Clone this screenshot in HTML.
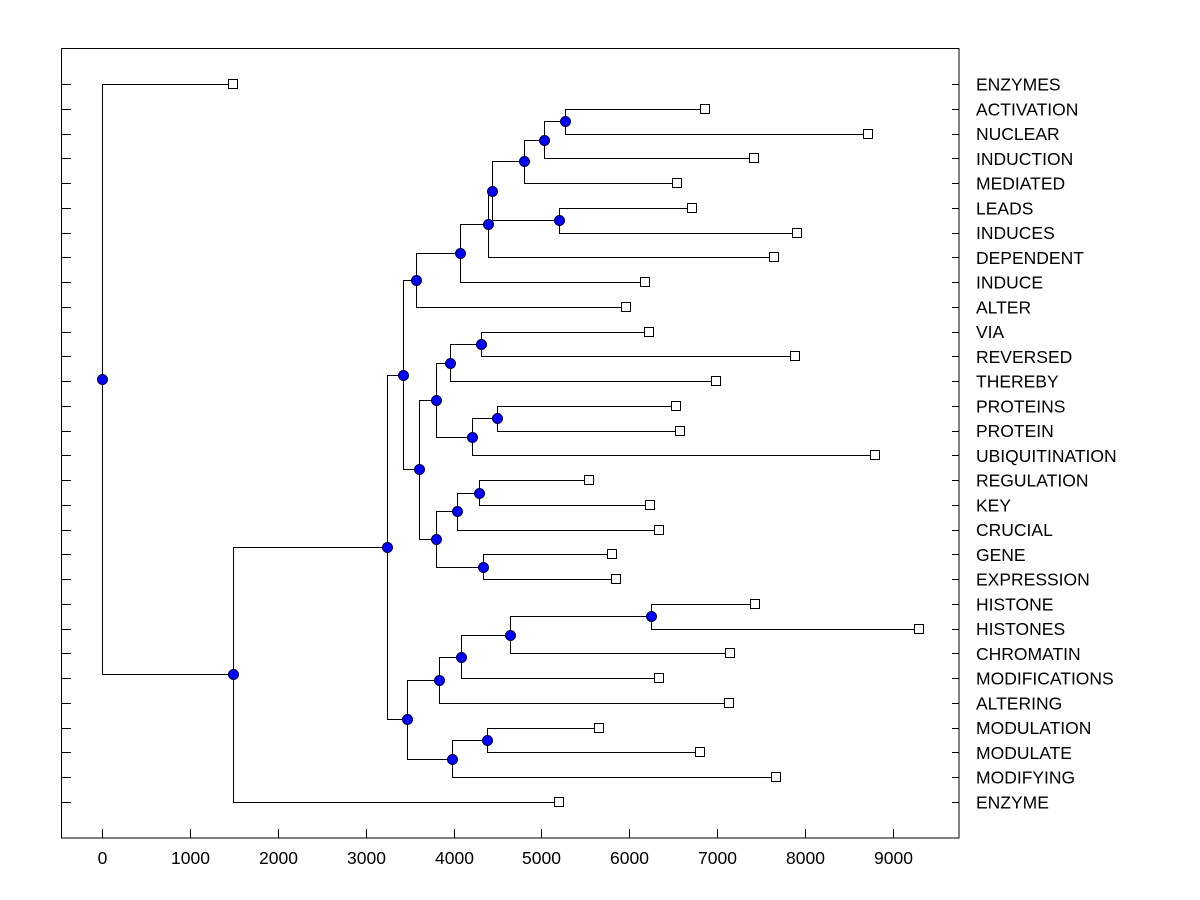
<!DOCTYPE html>
<html><head><meta charset="utf-8"><style>
html,body{margin:0;padding:0;background:#fff;}
svg{display:block;font-family:"Liberation Sans",Arial,sans-serif;}
</style></head><body>
<svg id="chart" width="1200" height="900">
<rect x="61.5" y="48.5" width="897.5" height="789.5" fill="none" stroke="#000" stroke-width="1"/>
<g id="ticks"></g>
<g id="links"></g>
<g id="marks"></g>
<g id="labels"></g>
</svg>
<script>
const leafNames = ["ENZYMES","ACTIVATION","NUCLEAR","INDUCTION","MEDIATED","LEADS","INDUCES","DEPENDENT","INDUCE","ALTER","VIA","REVERSED","THEREBY","PROTEINS","PROTEIN","UBIQUITINATION","REGULATION","KEY","CRUCIAL","GENE","EXPRESSION","HISTONE","HISTONES","CHROMATIN","MODIFICATIONS","ALTERING","MODULATION","MODULATE","MODIFYING","ENZYME"];
const leafValues = [1490,6861,8716,7418,6542,6713,7908,7646,6178,5962,6224,7885,6986,6531,6577,8795,5541,6235,6337,5803,5848,7430,9296,7145,6337,7134,5655,6804,7669,5200];
const mergeLeft = [1,30,31,5,32,34,35,36,10,38,13,40,39,16,43,19,44,42,37,21,49,50,51,26,53,52,48,56,0];
const mergeRight = [2,3,4,6,33,7,8,9,11,12,14,15,41,17,18,20,45,46,47,22,23,24,25,27,28,54,55,29,57];
const mergeHeights = [5268,5029,4801,5200,4437,4392,4073,3573,4312,3960,4494,4210,3800,4289,4039,4335,3800,3607,3425,6246,4642,4085,3834,4380,3982,3470,3243,1490,0];
const xTicks = [0,1000,2000,3000,4000,5000,6000,7000,8000,9000];

const NS = "http://www.w3.org/2000/svg";
const xScale = v => 102 + v * (791 / 9000);
const rowY = i => 84 + i * (718 / 29);
const N = leafNames.length;
function mk(tag, attrs, parent){const e=document.createElementNS(NS,tag);for(const k in attrs)e.setAttribute(k,attrs[k]);parent.appendChild(e);return e;}
const gT=document.getElementById('ticks'),gL=document.getElementById('links'),gM=document.getElementById('marks'),gLab=document.getElementById('labels');

const nodeX=[],nodeY=[];
for(let i=0;i<N;i++){nodeX[i]=xScale(leafValues[i]);nodeY[i]=rowY(i);}
for(let m=0;m<mergeHeights.length;m++){
  const id=N+m,a=mergeLeft[m],b=mergeRight[m];
  nodeX[id]=xScale(mergeHeights[m]);
  nodeY[id]=(nodeY[a]+nodeY[b])/2;
}
for(let i=0;i<N;i++){
  const y=Math.round(rowY(i))+0.5;
  const t1=mk('line',{x1:61,x2:71,y1:y,y2:y,stroke:'#000'},gT);
  
  
  const t2=mk('line',{x1:952,x2:959,y1:y,y2:y,stroke:'#000'},gT);
  
  
  const lb=mk('text',{x:976,y:rowY(i)+6.5,'font-size':17.5,fill:'#000'},gLab);
  lb.textContent=leafNames[i];
  
  
}
xTicks.forEach(v=>{
  const x=Math.round(xScale(v))+0.5;
  const t=mk('line',{x1:x,x2:x,y1:829,y2:838,stroke:'#000'},gT);
  
  
  const l=mk('text',{x:x,y:864,'font-size':17.5,'text-anchor':'middle',fill:'#000'},gT);
  l.textContent=String(v);
  
  
});
for(let m=0;m<mergeHeights.length;m++){
  const id=N+m,a=mergeLeft[m],b=mergeRight[m];
  const x=Math.round(nodeX[id])+0.5;
  const ya=Math.round(nodeY[a])+0.5,yb=Math.round(nodeY[b])+0.5;
  const p=mk('path',{d:`M${Math.round(nodeX[a])},${ya}H${x}V${yb}H${Math.round(nodeX[b])}`,fill:'none',stroke:'#000','stroke-width':1},gL);
  
  
}
for(let i=0;i<N;i++){
  const s=mk('rect',{x:Math.round(nodeX[i])-4.5,y:Math.round(nodeY[i])-4.5,width:9,height:9,fill:'#fff',stroke:'#000'},gM);
  
  
}
for(let m=0;m<mergeHeights.length;m++){
  const id=N+m;
  const c=mk('circle',{cx:Math.round(nodeX[id])+0.5,cy:Math.round(nodeY[id])+0.5,r:5,fill:'#0000ff',stroke:'#000040','stroke-width':1},gM);
  
  
}
</script>
</body></html>
